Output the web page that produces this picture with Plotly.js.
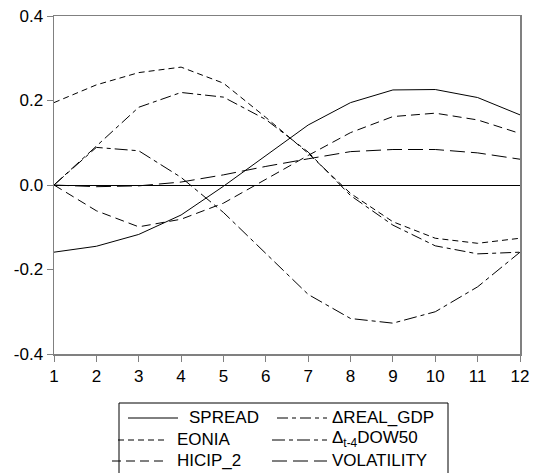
<!DOCTYPE html>
<html>
<head>
<meta charset="utf-8">
<script src="https://cdn.plot.ly/plotly-3.0.1.min.js"></script>
<style>html,body{margin:0;padding:0;background:#fff;}#chart{width:538px;height:473px;}</style>
</head>
<body>
<div id="chart"></div>
<script>
const horizons = [1,2,3,4,5,6,7,8,9,10,11,12];
const spread     = [-0.159,-0.145,-0.117,-0.071,-0.003,0.069,0.142,0.195,0.225,0.226,0.207,0.166];
const eonia      = [0.195,0.237,0.266,0.279,0.241,0.160,0.075,-0.020,-0.087,-0.126,-0.138,-0.126];
const hicip2     = [0,-0.061,-0.099,-0.081,-0.043,0.014,0.070,0.124,0.162,0.170,0.154,0.122];
const realGdp    = [0,0.091,0.184,0.219,0.208,0.155,0.078,-0.025,-0.095,-0.144,-0.163,-0.159];
const dow50      = [0,0.089,0.081,0.018,-0.065,-0.162,-0.259,-0.316,-0.327,-0.300,-0.241,-0.159];
const volatility = [0,-0.004,-0.002,0.007,0.024,0.044,0.062,0.079,0.084,0.084,0.076,0.061];
const yTicks = [-0.4,-0.2,0.0,0.2,0.4];
const yTickLabels = ["-0.4","-0.2","0.0","0.2","0.4"];

const names = ["SPREAD","EONIA","HICIP_2","\u0394REAL_GDP","\u0394<sub>t-4</sub>DOW50","VOLATILITY"];
const seriesData = [spread, eonia, hicip2, realGdp, dow50, volatility];
const dashes = ["solid","6px,4px","9px,5px","11px,4px,4px,4px","13px,4px,4px,4px","15px,6px"];

const traces = seriesData.map((s,i)=>({
  x: horizons, y: s, type:'scatter', mode:'lines', name: names[i],
  line:{color:'#000', width:1, dash:dashes[i]}, showlegend:false, hoverinfo:'skip'
}));

// custom legend (layout helpers)
const L=54, R=520, T=16, B=354;
const px = v => (v-L)/(R-L);
const py = v => (B-v)/(B-T);
const legendRows = [417, 439, 460];
const sampleX = [[128,178],[118,165],[112,165],[277,327],[272,327],[272,327]];
const textX = [187,175,175,330,330,330];
const shapes = [
  {type:'rect', xref:'paper', yref:'paper', x0:px(119), x1:px(448), y0:py(403), y1:py(490),
   line:{color:'#000', width:1}, fillcolor:'rgba(0,0,0,0)'}
];
const annotations = [];
names.forEach((n,i)=>{
  const row = legendRows[i%3];
  shapes.push({type:'line', xref:'paper', yref:'paper', x0:px(sampleX[i][0]), x1:px(sampleX[i][1]),
    y0:py(row+1), y1:py(row+1), line:{color:'#000', width:1, dash:dashes[i]}});
  annotations.push({xref:'paper', yref:'paper', x:px(textX[i]), y:py(row), text:n, showarrow:false,
    xanchor:'left', yanchor:'middle', font:{family:'Liberation Sans, Arial, sans-serif', size:17, color:'#000'}});
});

const layout = {
  width:538, height:473,
  margin:{l:L, r:538-R, t:T, b:473-B, pad:0},
  paper_bgcolor:'#fff', plot_bgcolor:'#fff',
  font:{family:'Liberation Sans, Arial, sans-serif', size:17, color:'#000'},
  xaxis:{range:[1,12], tickvals:horizons, ticks:'outside', ticklen:6, tickcolor:'#808080',
    showline:true, linecolor:'#808080', linewidth:1.5, mirror:true, showgrid:false, zeroline:false,
    tickfont:{size:17}},
  yaxis:{range:[-0.4,0.4], tickvals:yTicks, ticktext:yTickLabels, ticks:'outside', ticklen:6, tickcolor:'#808080',
    showline:true, linecolor:'#808080', linewidth:1.5, mirror:true, showgrid:false,
    zeroline:true, zerolinecolor:'#000', zerolinewidth:1, tickfont:{size:17}},
  shapes:shapes, annotations:annotations, showlegend:false
};
Plotly.newPlot('chart', traces, layout, {staticPlot:true, displayModeBar:false});
</script>
</body>
</html>
